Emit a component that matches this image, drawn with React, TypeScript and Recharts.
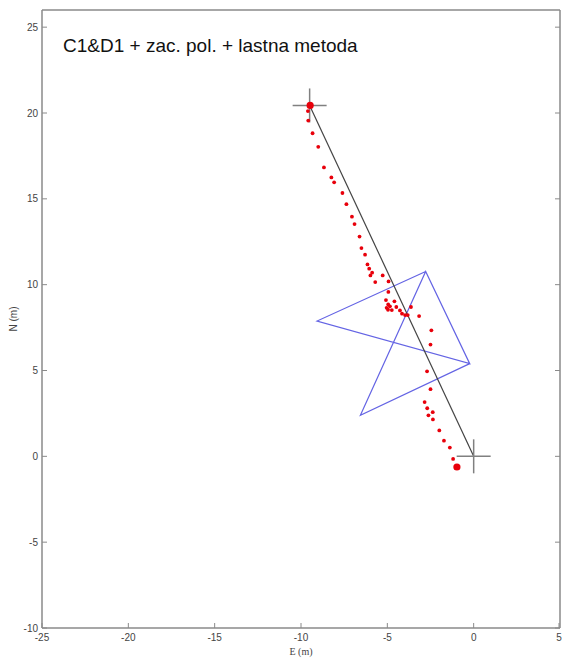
import { ScatterChart, Scatter, XAxis, YAxis } from "recharts";

// axis ticks
const xTicks = [-25, -20, -15, -10, -5, 0, 5];
const yTicks = [-10, -5, 0, 5, 10, 15, 20, 25];

// estimated track (red dots), E and N in metres
const trackE = [
  -9.6, -9.58, -9.33, -9.0, -8.67, -8.24, -8.08, -7.6, -7.37, -7.05, -6.9, -6.61, -6.5, -6.29, -6.15,
  -6.05, -5.88, -5.98, -5.27, -5.7, -4.93, -4.94, -5.08, -4.59, -4.95, -4.85, -5.04, -4.48, -4.74,
  -4.96, -4.27, -4.15, -3.97, -3.82, -3.63, -3.16, -2.45, -2.5, -2.7, -2.5, -2.84, -2.69, -2.37,
  -2.62, -2.36, -1.99, -1.72, -1.38, -1.19,
];
const trackN = [
  20.11, 19.56, 18.82, 18.03, 16.83, 16.25, 15.96, 15.34, 14.69, 13.96, 13.53, 12.8, 12.13, 11.75, 11.18,
  10.93, 10.7, 10.54, 10.54, 10.15, 10.19, 9.58, 9.1, 9.03, 8.85, 8.74, 8.65, 8.7, 8.52,
  8.54, 8.5, 8.31, 8.23, 8.23, 8.7, 8.17, 7.34, 6.51, 4.95, 3.91, 3.16, 2.8, 2.57,
  2.39, 2.15, 1.51, 0.91, 0.51, -0.15,
];
// first and last track point (bigger dots)
const endE = [-9.47, -0.97];
const endN = [20.44, -0.62];

// reference start / end (crosses + straight line)
const refE = [-9.5, 0];
const refN = [20.44, 0];

// blue triangles, drawn as one path T-L-R-T-B-R
const polyE = [-2.78, -9.07, -0.23, -2.78, -6.56, -0.23];
const polyN = [10.77, 7.88, 5.4, 10.77, 2.39, 5.4];

const pts = (xs: number[], ys: number[]) => xs.map((x, i) => ({ x, y: ys[i] }));

const FRAME = "#8a8a8a";
const TXT = "#444";
const TL = 5;

const LeftTick = (p: any) => (
  <g>
    <line x1={p.x + 4} x2={p.x + 4 + TL} y1={p.y} y2={p.y} stroke={FRAME} />
    <text x={p.x} y={p.y} dy="0.35em" textAnchor="end" fontSize={10} fill={TXT} fontFamily="Arial, Liberation Sans, sans-serif">
      {p.payload.value}
    </text>
  </g>
);
const BottomTick = (p: any) => (
  <g>
    <line x1={p.x} x2={p.x} y1={p.y - 6} y2={p.y - 6 - TL} stroke={FRAME} />
    <text x={p.x} y={p.y} dy="0.71em" textAnchor="middle" fontSize={10} fill={TXT} fontFamily="Arial, Liberation Sans, sans-serif">
      {p.payload.value}
    </text>
  </g>
);
const TopTick = (p: any) => <line x1={p.x} x2={p.x} y1={p.y} y2={p.y + TL} stroke={FRAME} />;
const RightTick = (p: any) => <line x1={p.x} x2={p.x - TL} y1={p.y} y2={p.y} stroke={FRAME} />;

const small = (p: any) => <circle cx={p.cx} cy={p.cy} r={1.9} fill="#e8000b" />;
const big = (p: any) => <circle cx={p.cx} cy={p.cy} r={3.6} fill="#e8000b" />;
const none = () => <g />;
const cross = (p: any) => (
  <g stroke="#808080" strokeWidth={1.5}>
    <line x1={p.cx - 17} x2={p.cx + 17} y1={p.cy} y2={p.cy} />
    <line x1={p.cx} x2={p.cx} y1={p.cy - 17} y2={p.cy + 17} />
  </g>
);

export default function App() {
  return (
    <div style={{ position: "absolute", left: 0, top: 0, width: 563, height: 658, background: "#fff" }}>
      <ScatterChart width={563} height={658} margin={{ top: 0, right: 0, bottom: 0, left: 0 }}>
        <XAxis
          dataKey="x"
          type="number"
          domain={[-25, 5]}
          ticks={xTicks}
          allowDataOverflow
          height={30}
          tickLine={false}
          tickSize={0}
          tickMargin={6}
          tick={BottomTick}
          axisLine={{ stroke: FRAME, strokeWidth: 1.5 }}
          label={{ value: "E (m)", position: "insideBottom", offset: 3, fontSize: 10, fill: TXT }}
        />
        <XAxis
          xAxisId="top"
          orientation="top"
          type="number"
          domain={[-25, 5]}
          ticks={xTicks}
          allowDataOverflow
          height={10}
          tickLine={false}
          tickSize={0}
          tickMargin={0}
          tick={TopTick}
          axisLine={{ stroke: FRAME, strokeWidth: 1.5 }}
        />
        <YAxis
          dataKey="y"
          type="number"
          domain={[-10, 26]}
          ticks={yTicks}
          allowDataOverflow
          width={42}
          tickLine={false}
          tickSize={0}
          tickMargin={4}
          tick={LeftTick}
          axisLine={{ stroke: FRAME, strokeWidth: 1.5 }}
          label={({ viewBox }: any) => (
            <text
              x={13}
              y={viewBox.y + viewBox.height / 2}
              transform={`rotate(-90 13 ${viewBox.y + viewBox.height / 2})`}
              textAnchor="middle"
              dominantBaseline="central"
              fontSize={10}
              fill={TXT}
              fontFamily="Arial, Liberation Sans, sans-serif"
            >
              N (m)
            </text>
          )}
        />
        <YAxis
          yAxisId="right"
          orientation="right"
          type="number"
          domain={[-10, 26]}
          ticks={yTicks}
          allowDataOverflow
          width={3}
          tickLine={false}
          tickSize={0}
          tickMargin={0}
          tick={RightTick}
          axisLine={{ stroke: FRAME, strokeWidth: 1.5 }}
        />
        <Scatter
          data={pts(polyE, polyN)}
          shape={none}
          line={{ stroke: "#6464e4", strokeWidth: 1.2 }}
          isAnimationActive={false}
        />
        <Scatter
          data={pts(refE, refN)}
          shape={none}
          line={{ stroke: "#444", strokeWidth: 1.2 }}
          isAnimationActive={false}
        />
        <Scatter data={pts(refE, refN)} shape={cross} isAnimationActive={false} />
        <Scatter data={pts(trackE, trackN)} shape={small} isAnimationActive={false} />
        <Scatter data={pts(endE, endN)} shape={big} isAnimationActive={false} />
      </ScatterChart>
      <div
        style={{
          position: "absolute",
          left: 63,
          top: 36,
          fontSize: 19,
          lineHeight: "19px",
          fontFamily: "Arial, 'Liberation Sans', sans-serif",
          color: "#111",
          whiteSpace: "nowrap",
        }}
      >
        C1&amp;D1 + zac. pol. + lastna metoda
      </div>
    </div>
  );
}
